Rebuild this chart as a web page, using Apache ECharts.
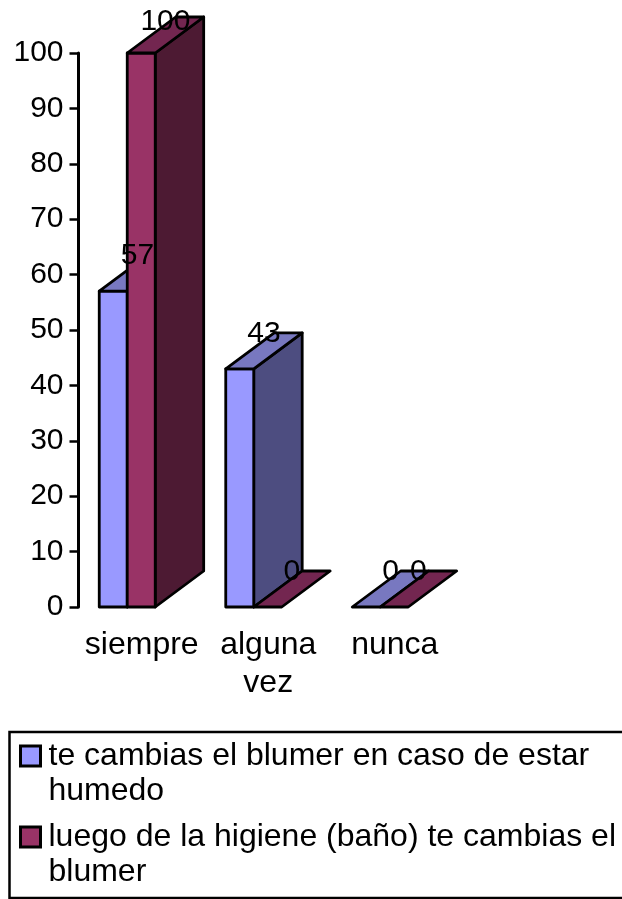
<!DOCTYPE html>
<html>
<head>
<meta charset="utf-8">
<style>html,body{margin:0;padding:0;background:#fff}#chart{width:622px;height:899px}</style>
<script src="https://cdn.jsdelivr.net/npm/echarts@6/dist/echarts.min.js"></script>
</head>
<body>
<div id="chart"></div>
<script>
// Survey answers, in percent
const categories = ['siempre', 'alguna\nvez', 'nunca'];
const cambioHumedo = [57, 43, 0];
const cambioHigiene = [100, 0, 0];
const nameHumedo = 'te cambias el blumer en caso de estar\nhumedo';
const nameHigiene = 'luego de la higiene (baño) te cambias el\nblumer';
const yTicks = { min: 0, max: 100, interval: 10 };

const FONT = '"Liberation Sans", Arial, sans-serif';
const SIZE_NUM = 30;
const SIZE_TEXT = 32;
const STROKE = 2.8;

const shades = [
  { front: '#9999ff', top: '#7878c0', side: '#4d4d80' },
  { front: '#993366', top: '#732650', side: '#4d1a33' }
];

// Column geometry shared by the faces and the value labels, sized from the category band
function geometry(api, seriesIndex) {
  const base = api.coord([api.value(0), 0]);
  const tip = api.coord([api.value(0), api.value(1)]);
  const band = api.size([1, 0])[0];
  const w = band * 0.2213;
  const x0 = base[0] - band * 0.336 + seriesIndex * w;
  return { x0, x1: x0 + w, yb: base[1], yt: tip[1], dx: band * 0.383, dy: 36 };
}

// Pseudo-3D column: right side, front face and top face
function column(seriesIndex) {
  return function (params, api) {
    const { x0, x1, yb, yt, dx, dy } = geometry(api, seriesIndex);
    const poly = (points, fill) => ({
      type: 'polygon',
      shape: { points },
      style: { fill, stroke: '#000', lineWidth: STROKE, lineJoin: 'round' }
    });
    const children = [];
    if (api.value(1) > 0) {
      children.push(poly([[x1, yb], [x1 + dx, yb - dy], [x1 + dx, yt - dy], [x1, yt]], shades[seriesIndex].side));
      children.push(poly([[x0, yb], [x1, yb], [x1, yt], [x0, yt]], shades[seriesIndex].front));
    }
    children.push(poly([[x0, yt], [x1, yt], [x1 + dx, yt - dy], [x0 + dx, yt - dy]], shades[seriesIndex].top));
    return { type: 'group', children };
  };
}

// Value printed above the column, kept above every column face
function valueLabel(seriesIndex) {
  return function (params, api) {
    const { x0, x1, yt, dx } = geometry(api, seriesIndex);
    return {
      type: 'text',
      style: {
        text: String(api.value(1)),
        x: (x0 + x1) / 2 + dx / 2,
        y: Math.max(yt - 35, 22),
        align: 'center',
        verticalAlign: 'middle',
        font: SIZE_NUM + 'px ' + FONT,
        fill: '#000'
      }
    };
  };
}

const toPoints = values => values.map((v, i) => [i, v]);

// The blank leading line centres the swatch on the first line of text
const legendBase = {
  left: 19,
  orient: 'vertical',
  itemWidth: 20,
  itemHeight: 20,
  padding: 0,
  icon: 'rect',
  selectedMode: false,
  formatter: name => '\n' + name,
  textStyle: { color: '#000', fontSize: SIZE_TEXT, fontFamily: FONT, lineHeight: 35, padding: [0, 0, 0, 3] },
  itemStyle: { borderColor: '#000', borderWidth: 3 }
};

const chart = echarts.init(document.getElementById('chart'), null, { renderer: 'canvas' });
chart.setOption({
  animation: false,
  backgroundColor: '#fff',
  textStyle: { fontFamily: FONT },
  grid: { left: 78.5, top: 53, width: 379.5, height: 554, containLabel: false },
  xAxis: {
    type: 'category',
    data: categories,
    axisLine: { show: false },
    axisTick: { show: false },
    axisLabel: { color: '#000', fontSize: SIZE_TEXT, fontFamily: FONT, lineHeight: 38, margin: 19, interval: 0 }
  },
  yAxis: {
    type: 'value',
    min: yTicks.min,
    max: yTicks.max,
    interval: yTicks.interval,
    splitLine: { show: false },
    axisLine: { show: true, lineStyle: { color: '#000', width: 3 } },
    axisTick: { show: true, length: 9, lineStyle: { color: '#000', width: 2.5 } },
    axisLabel: { color: '#000', fontSize: SIZE_NUM, fontFamily: FONT, margin: 15 }
  },
  legend: [
    Object.assign({}, legendBase, { top: 703.5, data: [nameHumedo] }),
    Object.assign({}, legendBase, { top: 784.5, data: [nameHigiene] })
  ],
  graphic: [{
    type: 'rect',
    silent: true,
    z: -1,
    shape: { x: 9.5, y: 732, width: 640, height: 166 },
    style: { fill: '#fff', stroke: '#000', lineWidth: 2.5 }
  }],
  series: [
    { type: 'custom', name: nameHumedo, renderItem: column(0), data: toPoints(cambioHumedo), itemStyle: { color: shades[0].front }, z: 2 },
    { type: 'custom', name: nameHigiene, renderItem: column(1), data: toPoints(cambioHigiene), itemStyle: { color: shades[1].front }, z: 3 },
    { type: 'custom', name: 'valores 1', renderItem: valueLabel(0), data: toPoints(cambioHumedo), z: 4, silent: true },
    { type: 'custom', name: 'valores 2', renderItem: valueLabel(1), data: toPoints(cambioHigiene), z: 4, silent: true }
  ]
});
</script>
</body>
</html>
